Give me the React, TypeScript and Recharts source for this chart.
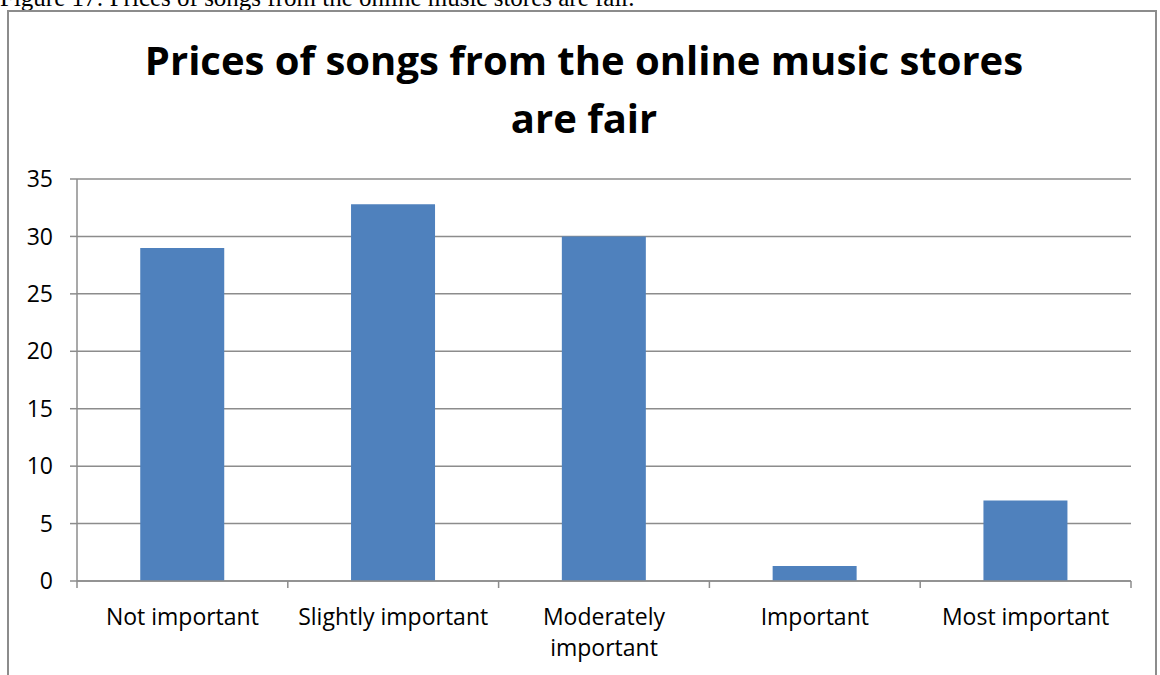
import React from 'react';
import { BarChart, Bar, XAxis, YAxis, CartesianGrid } from 'recharts';

const categories = ['Not important', 'Slightly important', 'Moderately important', 'Important', 'Most important'];
const percentages = [29, 32.8, 30, 1.3, 7];
const yTicks = [0, 5, 10, 15, 20, 25, 30, 35];

const data = categories.map((name, i) => ({ name, value: percentages[i] }));

const FONT = '"Open Sans", sans-serif';
const AXIS_GRAY = '#8c8c8c';

const PLOT_LEFT = 77;
const PLOT_RIGHT = 1131;
const BAND = (PLOT_RIGHT - PLOT_LEFT) / categories.length;
const MAX_CHARS = 18;

// split a label into lines of at most MAX_CHARS characters
function wrapLabel(label: string) {
  const lines: string[] = [];
  let cur = '';
  for (const w of label.split(' ')) {
    const next = cur ? cur + ' ' + w : w;
    if (next.length > MAX_CHARS && cur) {
      lines.push(cur);
      cur = w;
    } else {
      cur = next;
    }
  }
  if (cur) lines.push(cur);
  return lines;
}

// category label plus the boundary tick marks Excel draws between categories
function CategoryTick(props: any) {
  const { x, y, payload, index } = props;
  const left = x - BAND / 2;
  const lines = wrapLabel(String(payload.value));
  return (
    <g>
      <line x1={left} y1={y - 8} x2={left} y2={y - 1} stroke={AXIS_GRAY} strokeWidth={1.5} />
      {index === categories.length - 1 && (
        <line x1={left + BAND} y1={y - 8} x2={left + BAND} y2={y - 1} stroke={AXIS_GRAY} strokeWidth={1.5} />
      )}
      <text x={x} y={y + 36} textAnchor="middle" fontSize={23} fontFamily={FONT} fill="#000">
        {lines.map((ln, i) => (
          <tspan key={i} x={x} dy={i === 0 ? 0 : 31}>
            {ln}
          </tspan>
        ))}
      </text>
    </g>
  );
}

export default function App() {
  return (
    <div style={{ position: 'absolute', left: 0, top: 0, width: 1160, height: 675, background: '#fff', overflow: 'hidden' }}>
      <div
        style={{
          position: 'absolute',
          left: 0,
          top: -16,
          fontFamily: '"Liberation Serif", serif',
          fontSize: 25,
          lineHeight: '28px',
          color: '#000',
          whiteSpace: 'nowrap',
        }}
      >
        Figure 17: Prices of songs from the online music stores are fair.
      </div>
      <div
        style={{
          position: 'absolute',
          left: 7,
          top: 10,
          width: 1150,
          height: 700,
          boxSizing: 'border-box',
          border: `2px solid ${AXIS_GRAY}`,
          background: '#fff',
        }}
      />
      <div
        style={{
          position: 'absolute',
          left: 0,
          top: 31,
          width: 1168,
          textAlign: 'center',
          fontFamily: FONT,
          fontWeight: 700,
          fontSize: 40,
          lineHeight: '58px',
          color: '#000',
        }}
      >
        Prices of songs from the online music stores
        <br />
        are fair
      </div>
      <div style={{ position: 'absolute', left: 0, top: 0 }}>
        <BarChart
          width={1160}
          height={675}
          data={data}
          margin={{ top: 179, right: 1160 - PLOT_RIGHT, left: 0, bottom: 14 }}
          barCategoryGap="30%"
        >
          <CartesianGrid vertical={false} stroke={AXIS_GRAY} strokeWidth={1.5} />
          <XAxis
            dataKey="name"
            height={80}
            axisLine={{ stroke: AXIS_GRAY, strokeWidth: 1.5 }}
            tickLine={false}
            tick={<CategoryTick />}
            interval={0}
          />
          <YAxis
            width={PLOT_LEFT}
            domain={[0, 35]}
            ticks={yTicks}
            interval={0}
            axisLine={{ stroke: AXIS_GRAY, strokeWidth: 1.5 }}
            tickLine={{ stroke: AXIS_GRAY, strokeWidth: 1.5 }}
            tickSize={7}
            tickMargin={17}
            tick={{ fontSize: 23, fontFamily: FONT, fill: '#000' }}
          />
          <Bar dataKey="value" fill="#4f81bd" isAnimationActive={false} />
        </BarChart>
      </div>
    </div>
  );
}
